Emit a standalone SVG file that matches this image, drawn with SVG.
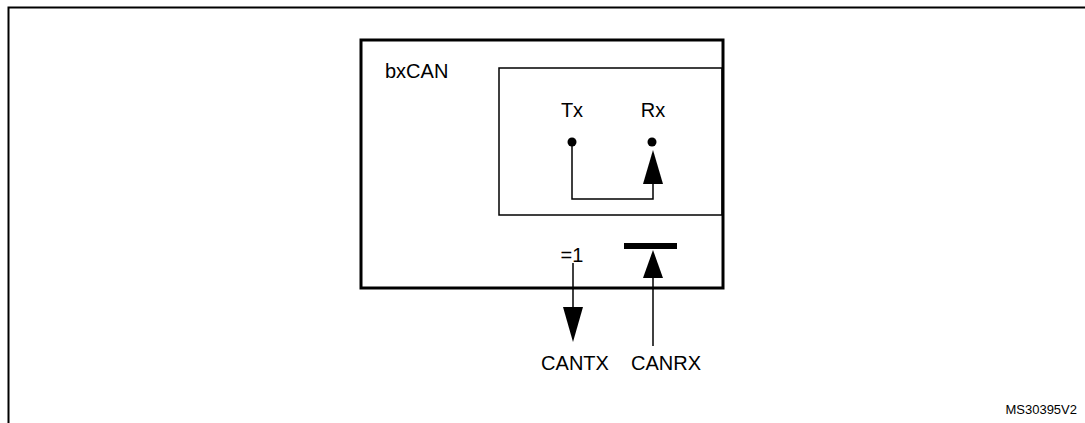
<svg xmlns="http://www.w3.org/2000/svg" width="1085" height="423" viewBox="0 0 1085 423">
<style>
text{font-family:"Liberation Sans",Arial,sans-serif;fill:#000}
.l{stroke:#000;stroke-width:1.5;fill:none}
</style>
<rect width="1085" height="423" fill="#fff"/>
<g id="frame"><path d="M8.5 423V7.5H1085" stroke="#000" stroke-width="2" fill="none"/></g>
<g id="bxcan"><rect x="361" y="40" width="362" height="248" fill="none" stroke="#000" stroke-width="3"/>
<text x="385" y="78" font-size="20">bxCAN</text></g>
<g id="inner"><rect x="499" y="68" width="223" height="147" fill="none" stroke="#000" stroke-width="1.5"/>
<text x="572" y="117" font-size="20" text-anchor="middle">Tx</text>
<text x="653" y="117" font-size="20" text-anchor="middle">Rx</text>
<circle cx="572" cy="142" r="4.5"/><circle cx="652" cy="142" r="4.5"/></g>
<g id="xor"><text x="572" y="262" font-size="20" text-anchor="middle">=1</text></g>
<g id="rxbar"><rect x="624" y="243" width="53" height="6"/></g>
<g id="pins"><text x="575" y="370" font-size="20" text-anchor="middle">CANTX</text>
<text x="666" y="370" font-size="20" text-anchor="middle">CANRX</text></g>
<g id="connectors">
<path class="l" d="M572 142V199H653V184"/>
<path d="M643 184L653 150L663 184Z"/>
<path class="l" d="M653 278V346"/>
<path d="M643 278L653 250L663 278Z"/>
<path class="l" d="M573 263V307"/>
<path d="M563 307L573 342L583 307Z"/>
</g>
<text x="1077" y="414" font-size="13" text-anchor="end">MS30395V2</text>
</svg>
